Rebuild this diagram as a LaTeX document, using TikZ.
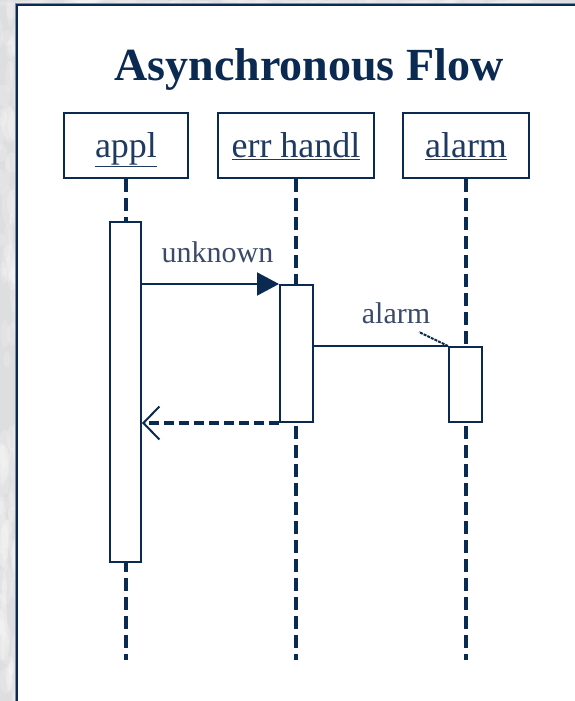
\documentclass[tikz,border=0pt]{standalone}
\usepackage{fontspec}
\setmainfont{Liberation Serif}
\usetikzlibrary{arrows.meta}
\definecolor{navy}{HTML}{0B2A52}
\definecolor{boxink}{HTML}{1F3A60}
\definecolor{labelink}{HTML}{3A4A68}
\definecolor{marble}{HTML}{DDDEE0}
\definecolor{rimblue}{HTML}{7C8DA6}

\begin{document}
\begin{tikzpicture}[x=1pt,y=-1pt,
  objbox/.style={draw=navy, line width=2pt, fill=white, inner sep=0pt,
    minimum height=65pt, text height=28pt, text depth=5pt,
    font=\fontsize{36}{40}\selectfont, text=boxink},
  actbar/.style={draw=navy, line width=2pt, fill=white, inner sep=0pt},
  lifeline/.style={draw=navy, line width=4pt, dash pattern=on 13pt off 6pt},
  msg/.style={draw=navy, line width=2pt},
  msglabel/.style={anchor=base, inner sep=0pt, text=labelink,
    font=\fontsize{30}{34}\selectfont}]

  % canvas with a marbled surround
  \useasboundingbox (0,0) rectangle (575,701);
  \fill[marble] (0,0) rectangle (575,701);
  \pgfmathsetseed{7}
  \begin{scope}
    \clip (0,0) rectangle (575,701);
    \foreach \i in {1,...,90} {
      \pgfmathsetmacro{\px}{rnd*18}
      \pgfmathsetmacro{\py}{rnd*701}
      \pgfmathsetmacro{\rx}{2+rnd*5}
      \pgfmathsetmacro{\ry}{6+rnd*16}
      \fill[white, opacity=0.18] (\px,\py) ellipse [x radius=\rx, y radius=\ry];
    }
    \foreach \i in {1,...,60} {
      \pgfmathsetmacro{\px}{rnd*575}
      \pgfmathsetmacro{\py}{rnd*5}
      \pgfmathsetmacro{\rx}{6+rnd*14}
      \fill[white, opacity=0.18] (\px,\py) ellipse [x radius=\rx, y radius=2];
    }
  \end{scope}

  % panel
  \fill[white] (17,5) rectangle (580,706);
  \draw[rimblue, line width=1pt] (15.5,706) -- (15.5,3.5) -- (580,3.5);
  \draw[navy, line width=2pt] (17,706) -- (17,5) -- (580,5);

  % title
  \node[anchor=base, inner sep=0pt, text=navy,
        font=\fontsize{46}{50}\selectfont\bfseries] (title) at (309,80)
        {Asynchronous Flow};

  % objects
  \node[objbox, minimum width=124pt] (appl)  at (126,145.5) {\underline{appl}};
  \node[objbox, minimum width=156pt] (err)   at (296,145.5) {\underline{err handl}};
  \node[objbox, minimum width=126pt] (alarm) at (466,145.5) {\underline{alarm}};

  % lifelines
  \coordinate (applend)  at (appl.south  |- 0,660);
  \coordinate (errend)   at (err.south   |- 0,660);
  \coordinate (alarmend) at (alarm.south |- 0,660);
  \draw[lifeline] (appl.south)  -- (applend);
  \draw[lifeline] (err.south)   -- (errend);
  \draw[lifeline] (alarm.south) -- (alarmend);

  % activation bars
  \node[actbar, minimum width=31pt, minimum height=340pt] (applbar)  at (125.5,392) {};
  \node[actbar, minimum width=33pt, minimum height=137pt] (errbar)   at (296.5,353.5) {};
  \node[actbar, minimum width=33pt, minimum height=75pt]  (alarmbar) at (465.5,384.5) {};

  % messages
  \draw[msg, -{Triangle[length=22pt, width=23pt]}]
    (applbar.east |- errbar.north) -- (errbar.north west);
  \node[msglabel] (unknownlbl) at (217.5,262) {unknown};

  \draw[msg] (errbar.east |- alarmbar.north) -- (alarmbar.north west);
  \coordinate (barbend) at ([shift={(-29,-14)}]alarmbar.north west);
  \draw[navy, line width=2pt, dash pattern=on 3pt off 1pt] (alarmbar.north west) -- (barbend);
  \node[msglabel] (alarmlbl) at (396,323) {alarm};

  \draw[navy, line width=3.5pt, dash pattern=on 10pt off 5pt,
        -{Straight Barb[length=16pt, width=33pt, line width=2pt]}]
    (errbar.south west) -- (applbar.east |- errbar.south);
\end{tikzpicture}
\end{document}
